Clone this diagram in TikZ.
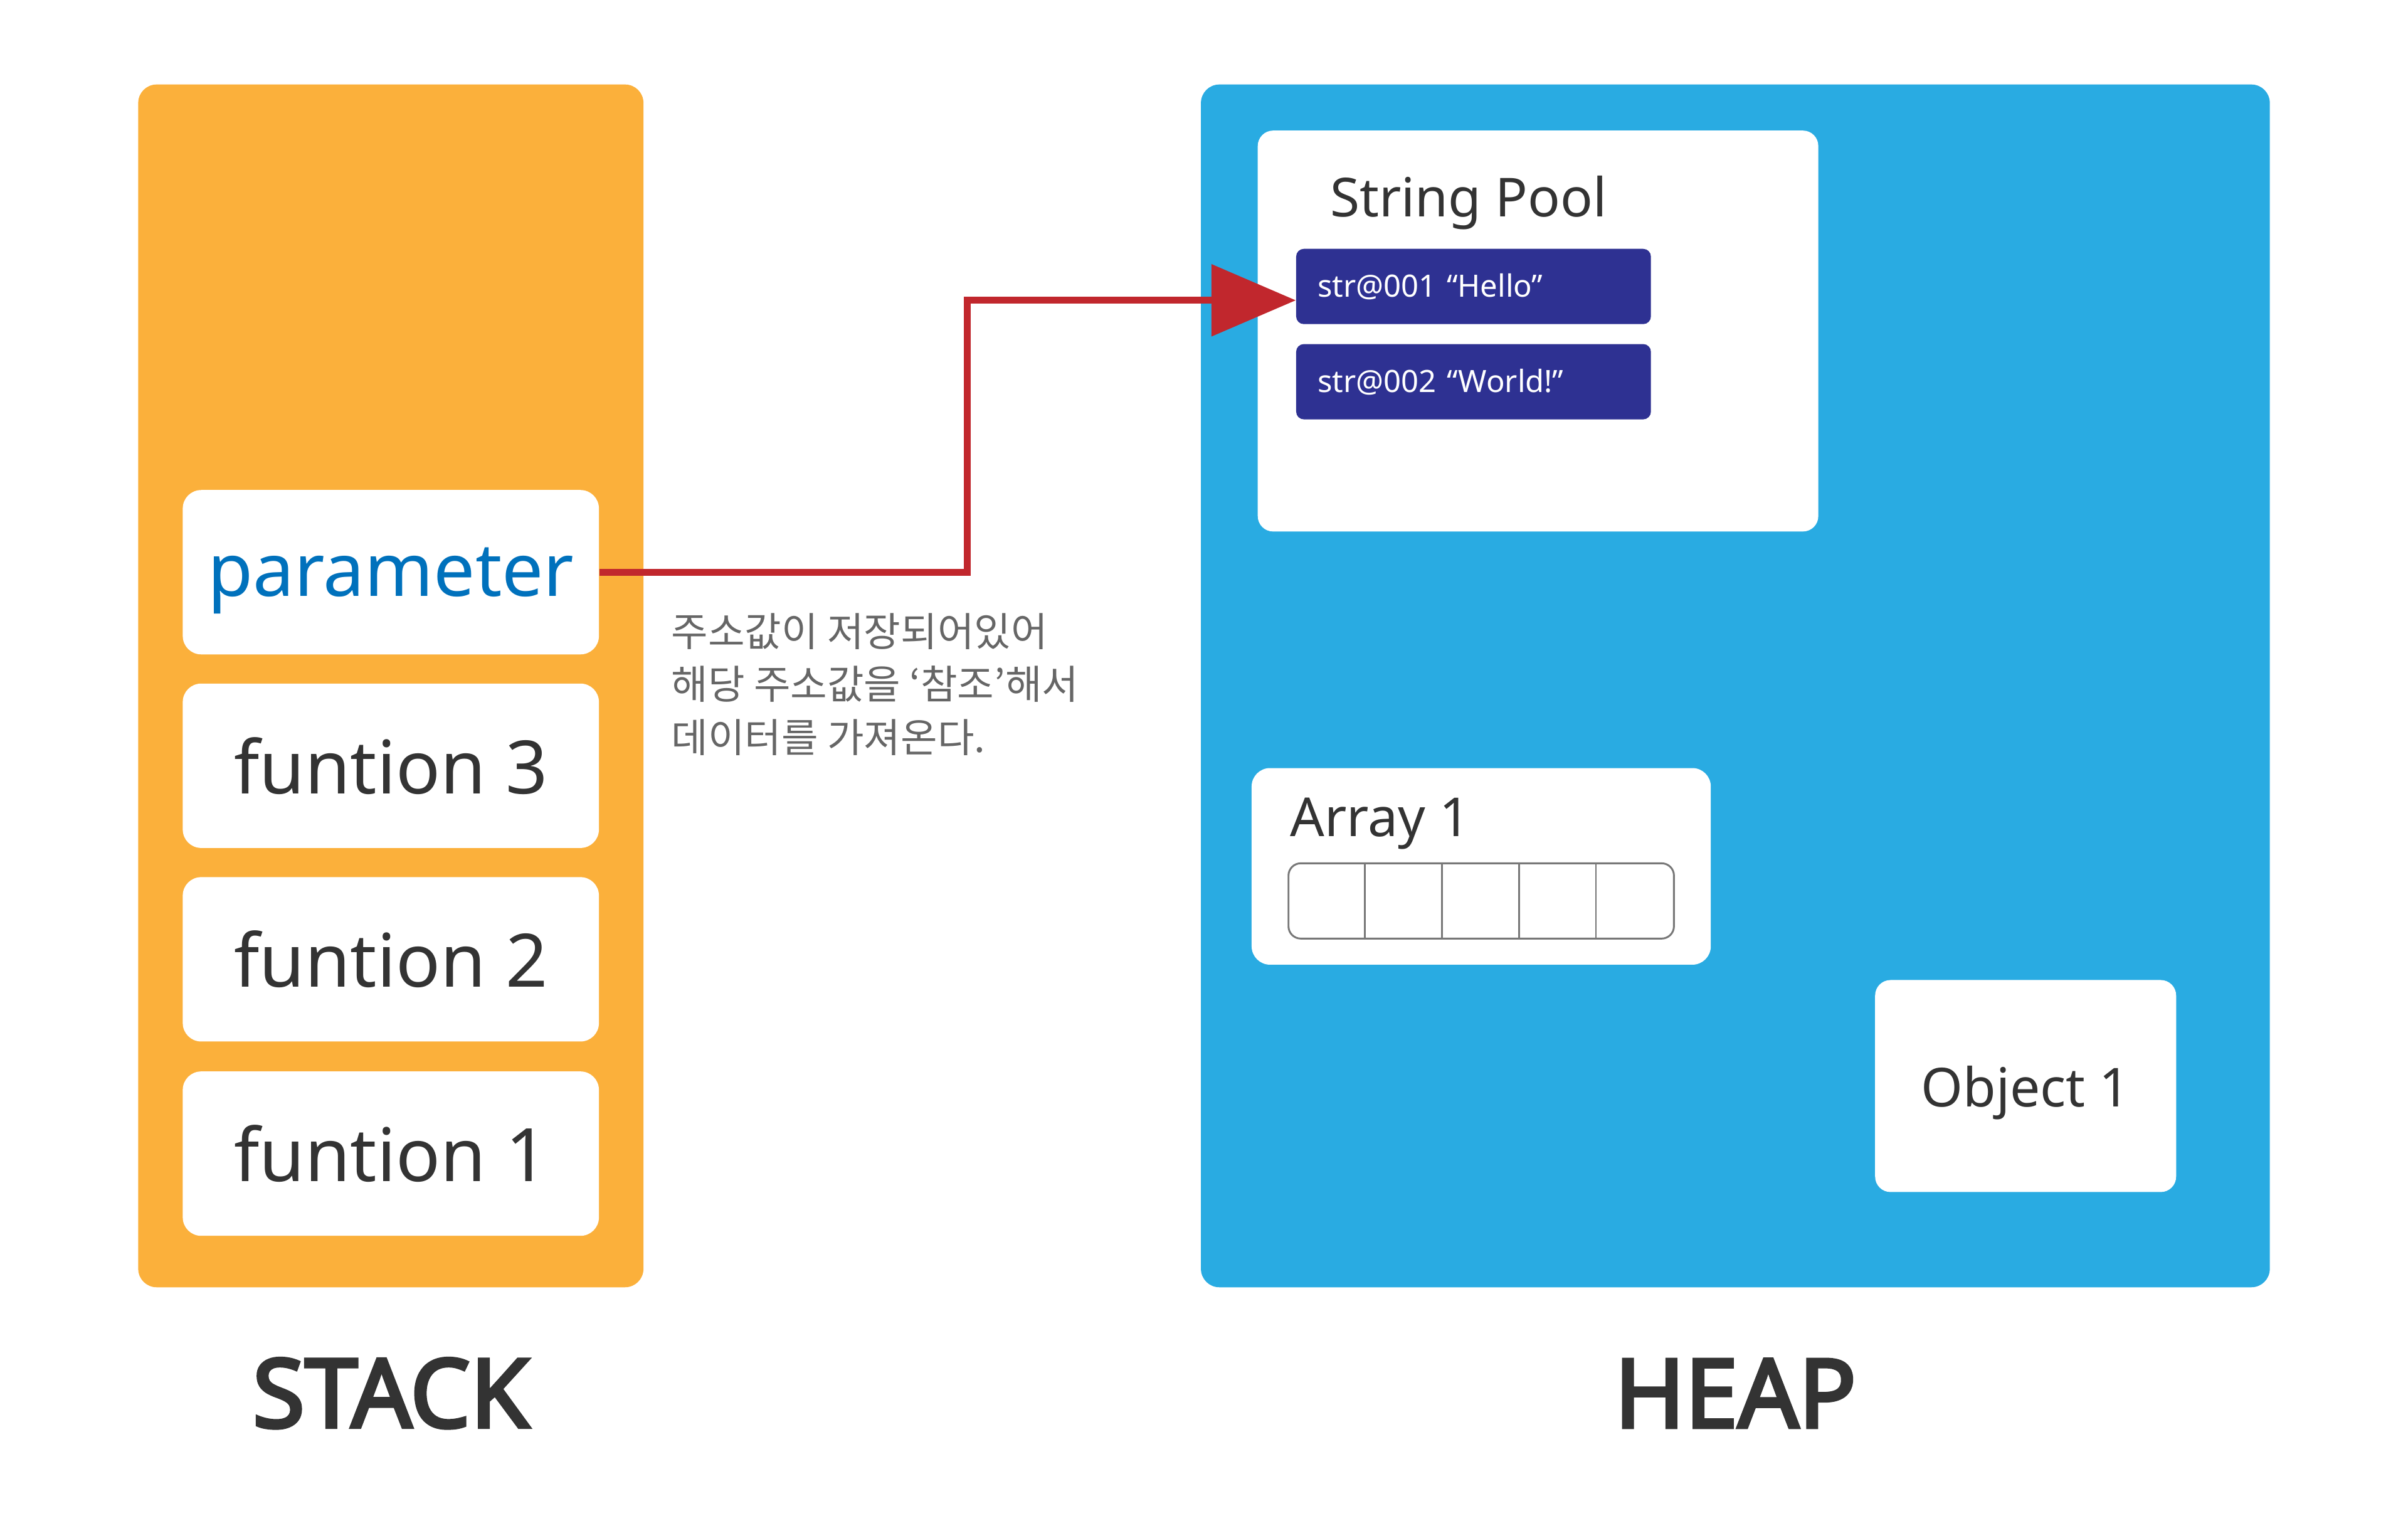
\documentclass[tikz,border=0pt]{standalone}
\usepackage{fontspec}
\setmainfont{Noto Sans}
\newfontfamily\labelfont{Noto Sans}[FakeBold=3.5]
\newfontfamily\kofont{Noto Sans CJK KR}
\usetikzlibrary{arrows.meta}
\definecolor{stackorange}{HTML}{FBB03B}
\definecolor{heapblue}{HTML}{29ABE2}
\definecolor{pooldark}{HTML}{2E3192}
\definecolor{refred}{HTML}{C1272D}
\definecolor{parblue}{HTML}{0071BC}
\definecolor{textdark}{HTML}{333333}
\definecolor{notegray}{HTML}{666666}
\definecolor{cellgray}{HTML}{777777}
\begin{document}
\begin{tikzpicture}[x=1pt, y=-1pt,
  every node/.style={inner sep=0pt, text=textdark},
  area/.style={rounded corners=12pt, minimum height=783pt},
  frame/.style={fill=white, rounded corners=12pt, minimum width=271pt, minimum height=107pt, font=\fontsize{48}{48}\selectfont},
  box/.style={fill=white, rounded corners=10pt},
  title/.style={anchor=west, font=\fontsize{35}{35}\selectfont},
  strbox/.style={fill=pooldark, rounded corners=5pt, minimum width=231pt, minimum height=49pt,
    text width=203pt, align=left, inner xsep=14pt, text=white, font=\fontsize{20}{20}\selectfont},
  label/.style={font=\labelfont\fontsize{62}{62}\selectfont}]
  \useasboundingbox (0,0) rectangle (1568,1001);

  % stack
  \node[area, fill=stackorange, minimum width=329pt] (stack) at (254.5,446.5) {};
  \node[frame, text=parblue, text depth=0pt] (param) at (254.5,372.5) {parameter};
  \node[frame] (f3) at (254.5,498.5) {funtion 3};
  \node[frame] (f2) at (254.5,624.5) {funtion 2};
  \node[frame] (f1) at (254.5,751) {funtion 1};
  \node[label] (stacklbl) at (254.5,907) {STACK};

  % heap
  \node[area, fill=heapblue, minimum width=696pt] (heap) at (1130,446.5) {};
  \node[box, minimum width=365pt, minimum height=261pt] (pool) at (1001.5,215.5) {};
  \node[title] (pooltitle) at (866,132) {String Pool};
  \node[strbox] (hello) at (959.5,186.5) {str@001 “Hello”};
  \node[strbox] (world) at (959.5,248.5) {str@002 “World!”};
  \node[box, rounded corners=12pt, minimum width=299pt, minimum height=128pt] (array) at (964.5,564) {};
  \node[title] (arraytitle) at (840,536) {Array 1};
  \node[draw=cellgray, line width=1.2pt, rounded corners=8pt, minimum width=251pt, minimum height=49pt] (cells) at (964.5,586.5) {};
  \foreach \i in {1,...,4}
    \draw[cellgray, line width=1.2pt] ([xshift=\i*50.2pt]cells.north west) -- ([xshift=\i*50.2pt]cells.south west);
  \node[box, minimum width=196pt, minimum height=138pt, text depth=0pt, font=\fontsize{35}{35}\selectfont] (object) at (1319,707) {Object 1};
  \node[label] (heaplbl) at (1130,907) {HEAP};

  % reference
  \coordinate (tip) at ([yshift=-9pt]hello.west);
  \coordinate (bend) at (630,0);
  \draw[refred, line width=4.5pt, -{Triangle[length=55pt,width=46pt]}] (param.east) -| (bend |- tip) -- (tip);
  \node[anchor=north west, align=left, text=notegray, font=\kofont\fontsize{26}{34.5}\selectfont] (note) at (437,399)
    {주소값이 저장되어있어\\해당 주소값을 ‘참조’해서\\데이터를 가져온다.};
\end{tikzpicture}
\end{document}
